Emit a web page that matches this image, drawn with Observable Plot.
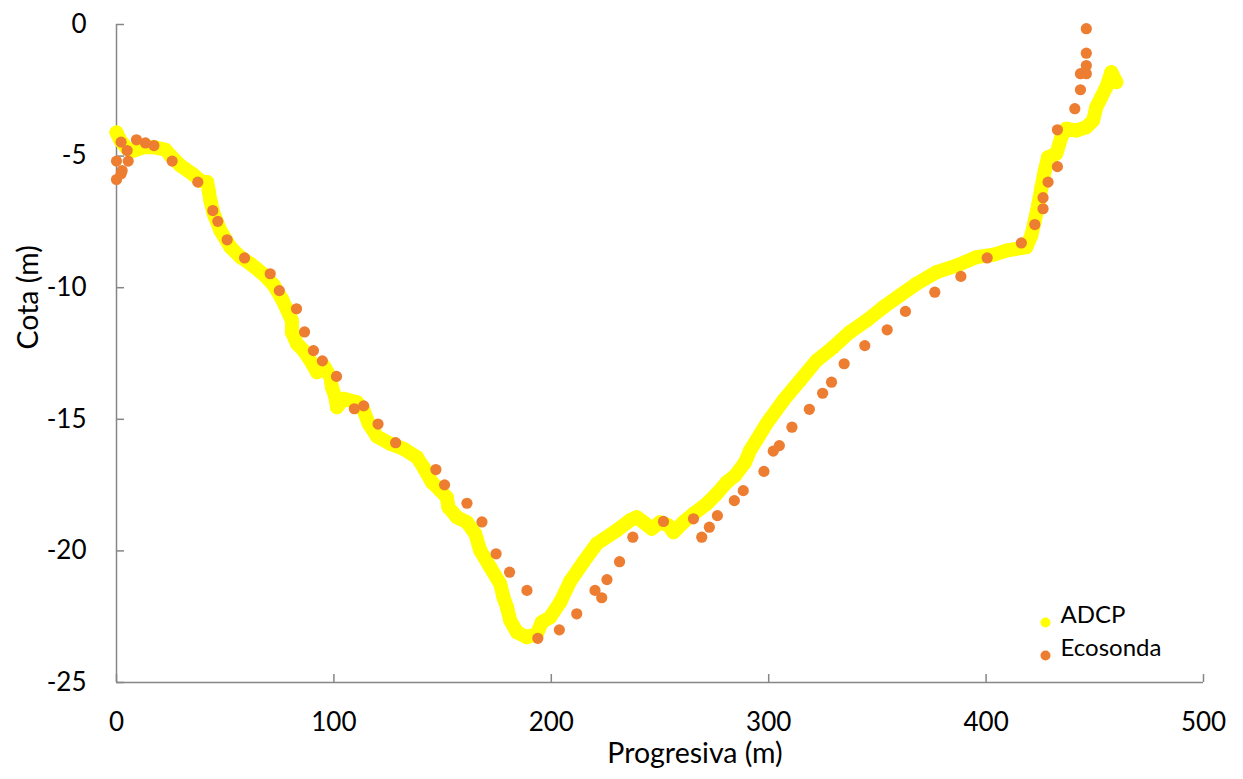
<!DOCTYPE html>
<html>
<head>
<meta charset="utf-8">
<script src="https://cdn.jsdelivr.net/npm/d3@7"></script>
<script src="https://cdn.jsdelivr.net/npm/@observablehq/plot@0.6"></script>
<style>
  html, body { margin: 0; padding: 0; background: #ffffff; }
  #chart { width: 1243px; height: 779px; }
</style>
</head>
<body>
<div id="chart"></div>
<script>
// ---- Data ----
const adcpX = [0, 1.8, 4.9, 8, 12.5, 17.2, 22.5, 24.8, 29.4, 34.8, 38.6, 41.7, 42.4, 43.2, 44.7, 47.8, 52.4, 57, 61.6, 67.7, 72.3, 76.2, 80, 80.7, 80.7, 83, 86.1, 89.2, 92.2, 95.3, 98.4, 99.1, 100.7, 101.4, 104.5, 110.6, 113.7, 116, 119.8, 126, 132, 138.2, 141.2, 145.1, 148.9, 151.9, 152.7, 156.6, 161.2, 165, 167.3, 171.9, 176.5, 178, 179.6, 181.1, 184.2, 188.8, 193.4, 195.6, 199.5, 204.1, 208.7, 214.8, 220.9, 230.1, 236.2, 239.3, 242.4, 246.2, 250, 253.8, 256.2, 260.8, 265.4, 271.5, 276.1, 280.7, 284.5, 289.1, 291.4, 299, 306.7, 314.4, 322, 329.7, 337.3, 345, 352.7, 360.3, 368, 377.2, 386.4, 395.6, 403.2, 409.3, 418.5, 420.8, 422.4, 423.9, 425.5, 427, 428.5, 432.3, 434.6, 436.9, 441.5, 446.1, 449.2, 450.7, 453, 455.3, 457.6, 459.9];
const adcpY = [-4.1, -4.41, -4.72, -4.79, -4.66, -4.66, -4.76, -4.98, -5.36, -5.67, -5.93, -5.99, -6.31, -6.69, -7.19, -7.83, -8.46, -8.84, -9.09, -9.5, -9.9, -10.45, -11.12, -11.27, -11.69, -12.13, -12.39, -12.77, -13.21, -12.96, -13.4, -13.78, -14.16, -14.54, -14.22, -14.35, -14.67, -15.17, -15.65, -15.93, -16.12, -16.44, -16.82, -17.39, -17.7, -17.96, -18.34, -18.72, -18.91, -19.35, -19.98, -20.62, -21.25, -21.76, -22.14, -22.64, -23.09, -23.28, -23.15, -22.71, -22.52, -21.95, -21.15, -20.42, -19.73, -19.22, -18.84, -18.72, -18.91, -19.16, -18.91, -19.03, -19.29, -18.91, -18.59, -18.21, -17.83, -17.39, -17.14, -16.64, -16.19, -15.17, -14.29, -13.53, -12.77, -12.26, -11.69, -11.25, -10.74, -10.3, -9.85, -9.41, -9.16, -8.84, -8.75, -8.59, -8.46, -8.02, -7.45, -6.88, -6.18, -5.55, -5.04, -4.91, -4.28, -3.96, -4.03, -3.9, -3.65, -3.14, -2.76, -2.38, -1.81, -2.19];

const ecoX = [0, 2.1, 2.6, 0, 5.4, 4.9, 2.1, 9.2, 13.3, 17.2, 25.6, 37.4, 44.3, 46.6, 50.9, 58.9, 70.7, 74.9, 82.8, 86.5, 90.6, 94.7, 101.2, 109.4, 113.7, 120.3, 128.4, 146.9, 150.9, 161.2, 168.1, 174.6, 180.8, 188.8, 193.8, 203.7, 211.7, 220.1, 223.2, 225.6, 231.4, 237.5, 251.6, 265.4, 269.2, 272.7, 276.4, 284.2, 288.3, 297.8, 302.1, 304.9, 310.7, 318.7, 324.8, 328.9, 334.7, 344.2, 354.5, 362.9, 376.4, 388.4, 400.5, 416.2, 422.4, 426.2, 426.2, 428.5, 432.8, 432.8, 440.8, 443.4, 443.4, 446.1, 446.1, 446.1, 446.1];
const ecoY = [-5.89, -5.67, -5.55, -5.19, -5.19, -4.79, -4.47, -4.38, -4.5, -4.6, -5.19, -5.99, -7.07, -7.48, -8.18, -8.87, -9.47, -10.11, -10.8, -11.68, -12.39, -12.78, -13.37, -14.6, -14.49, -15.18, -15.89, -16.91, -17.49, -18.19, -18.9, -20.11, -20.81, -21.5, -23.32, -23.0, -22.39, -21.5, -21.78, -21.09, -20.41, -19.48, -18.88, -18.78, -19.48, -19.1, -18.66, -18.09, -17.71, -16.98, -16.21, -16.0, -15.3, -14.62, -14.01, -13.59, -12.89, -12.2, -11.6, -10.9, -10.17, -9.57, -8.87, -8.3, -7.6, -7.0, -6.58, -5.99, -5.4, -4.0, -3.2, -2.48, -1.87, -1.87, -1.56, -1.09, -0.16];

const xTicks = [0, 100, 200, 300, 400, 500];
const yTicks = [0, -5, -10, -15, -20, -25];
const seriesNames = ["ADCP", "Ecosonda"];
const seriesColors = ["#FFFF00", "#ED7D31"];
const xTitle = "Progresiva (m)";
const yTitle = "Cota (m)";

// ---- Build tables ----
const adcp = adcpX.map((x, i) => ({x, y: adcpY[i]}));
const eco = ecoX.map((x, i) => ({x, y: ecoY[i]}));
const legend = seriesNames.map((name, i) => ({name, color: seriesColors[i], i}));

const W = 1243, H = 779;
const mL = 116, mR = 40, mT = 24, mB = 97;
const frameW = W - mL - mR, frameH = H - mT - mB;
const axisColor = "#868686";

const chart = Plot.plot({
  width: W,
  height: H,
  marginLeft: mL,
  marginRight: mR,
  marginTop: mT,
  marginBottom: mB,
  style: {fontFamily: "Lato, 'Open Sans', sans-serif", fontSize: "26px", color: "#000", background: "#fff"},
  x: {domain: [0, 500], ticks: xTicks, tickSize: 0, tickPadding: 30, tickFormat: d => String(d), label: null},
  y: {domain: [-25, 0], ticks: yTicks, tickSize: 0, tickPadding: 30, tickFormat: d => String(d), label: null},
  marks: [
    // axis lines
    Plot.ruleX([0], {stroke: axisColor, strokeWidth: 1.5}),
    Plot.ruleY([-25], {stroke: axisColor, strokeWidth: 1.5}),
    // inward ticks
    Plot.tickX(xTicks, {x: d => d, stroke: axisColor, strokeWidth: 1.5, insetTop: frameH - 8}),
    Plot.tickY(yTicks, {y: d => d, stroke: axisColor, strokeWidth: 1.5, insetRight: frameW - 8}),
    // ADCP: dense yellow markers forming a thick band
    Plot.line(adcp, {x: "x", y: "y", stroke: seriesColors[0], strokeWidth: 14, strokeLinecap: "round", strokeLinejoin: "round"}),
    Plot.dot(adcp, {x: "x", y: "y", r: 7, fill: seriesColors[0], stroke: "none"}),
    // Ecosonda
    Plot.dot(eco, {x: "x", y: "y", r: 5.6, fill: seriesColors[1], stroke: "none"}),
    // axis titles
    Plot.text([xTitle], {frameAnchor: "bottom", dx: 35, dy: 80, fontSize: 28.5, fill: "#000"}),
    Plot.text([yTitle], {frameAnchor: "left", dx: -88, dy: -4, rotate: -90, fontSize: 28.5, fill: "#000"}),
    // legend
    Plot.dot(legend.filter(d => d.i === 0), {frameAnchor: "bottom-right", dx: -158, dy: -60, fill: seriesColors[0], r: 5, stroke: "none"}),
    Plot.dot(legend.filter(d => d.i === 1), {frameAnchor: "bottom-right", dx: -158, dy: -27, fill: seriesColors[1], r: 5, stroke: "none"}),
    Plot.text(legend.filter(d => d.i === 0), {frameAnchor: "bottom-right", dx: -143, dy: -60, text: "name", textAnchor: "start", fontSize: 24, fill: "#000"}),
    Plot.text(legend.filter(d => d.i === 1), {frameAnchor: "bottom-right", dx: -143, dy: -27, text: "name", textAnchor: "start", fontSize: 24, fill: "#000"})
  ]
});
document.getElementById("chart").appendChild(chart);
</script>
</body>
</html>
